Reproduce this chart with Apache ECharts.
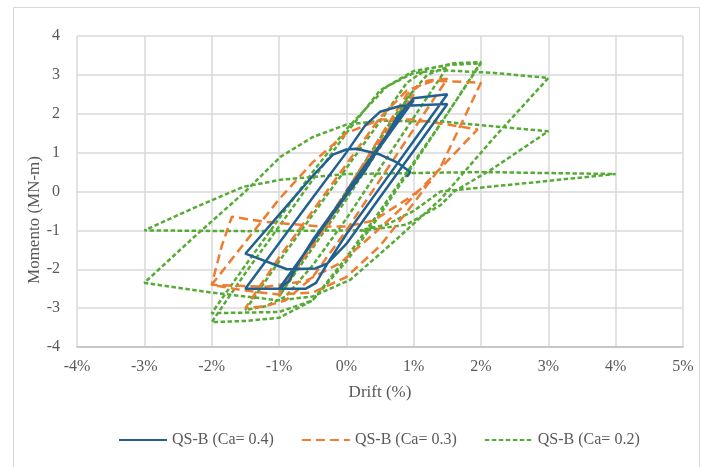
<!DOCTYPE html>
<html>
<head>
<meta charset="utf-8">
<script src="https://cdn.jsdelivr.net/npm/echarts@6/dist/echarts.min.js"></script>
<style>
html,body{margin:0;padding:0;background:#fff;}
#chart{width:705px;height:467px;}
</style>
</head>
<body>
<div id="chart"></div>
<script>
// Tick labels
var xTicks = [-4, -3, -2, -1, 0, 1, 2, 3, 4, 5];
var yTicks = [-4, -3, -2, -1, 0, 1, 2, 3, 4];

// Series names and axis titles
var seriesNames = ['QS-B (Ca= 0.4)', 'QS-B (Ca= 0.3)', 'QS-B (Ca= 0.2)'];
var xTitle = 'Drift (%)';
var yTitle = 'Momento (MN-m)';

// QS-B (Ca= 0.4) : drift (%) and moment (MN-m)
var blueDrift = [0,0.4,0.7,0.85,1.0,
  0.5,0,-0.5,-0.7,-0.85,-1.0,
  -0.5,0,0.3,0.55,0.75,1.0,1.5,
  1.0,0.5,0,-0.28,-0.45,-0.6,-1.0,-1.5,
  -1.0,-0.5,0,0.28,0.5,0.8,1.5,
  1.0,0.5,0,-0.28,-0.46,-0.88,-1.5,
  -1.0,-0.5,-0.2,0,0.15,0.5,0.75,0.95,0.9];
var blueMoment = [0,0.95,1.7,2.1,2.35,
  1.15,-0.05,-1.25,-1.8,-2.3,-2.5,
  -1.3,-0.1,0.6,1.3,1.9,2.4,2.5,
  1.3,0.1,-1.1,-1.85,-2.35,-2.5,-2.5,-2.5,
  -1.33,-0.16,1.0,1.7,2.05,2.2,2.25,
  1.05,-0.15,-1.35,-1.85,-1.98,-2.0,-1.6,
  -0.6,0.4,0.95,1.08,1.1,0.95,0.75,0.5,0.38];

// QS-B (Ca= 0.3)
var orangeDrift = [0,0.5,0.8,1.0,
  0.5,0,-0.5,-0.8,-1.0,
  -0.5,0,0.5,0.9,1.2,1.5,
  1.0,0.5,0,-0.5,-0.9,-1.2,-1.5,
  -1.0,-0.5,0,0.5,0.9,1.3,2.0,
  1.4,1.0,0.5,0,-0.5,-1.0,-1.5,-2.0,
  -1.5,-1.0,-0.5,0,0.5,1.0,1.4,1.95,
  1.4,0.9,0.4,-0.09,-0.6,-1.2,-2.0,
  -1.85,-1.7,-1.2,-0.4,0,0.4,0.9,1.29];
var orangeMoment = [0,1.3,2.0,2.5,
  1.2,-0.1,-1.4,-2.1,-2.6,
  -1.3,0,1.4,2.5,2.85,2.9,
  1.6,0.3,-1.0,-2.2,-2.8,-2.95,-3.0,
  -1.7,-0.5,0.7,1.9,2.6,2.85,2.8,
  0.63,-0.3,-1.4,-2.2,-2.6,-2.65,-2.55,-2.4,
  -1.3,-0.2,0.75,1.5,1.85,1.85,1.75,1.6,
  0.6,-0.3,-1.1,-1.84,-2.3,-2.45,-2.4,
  -1.4,-0.65,-0.78,-0.9,-0.9,-0.75,-0.2,0.3];

// QS-B (Ca= 0.2)
var greenDrift = [0,0.4,0.7,1.0,
  0.6,0,-0.6,-0.85,-1.0,
  -0.6,0,0.6,0.9,1.2,1.5,
  1.0,0.5,0,-0.5,-0.9,-1.2,-1.5,
  -1.0,-0.5,0,0.5,0.9,1.2,1.6,2.0,
  1.5,1.0,0.5,0,-0.5,-1.0,-1.5,-2.0,
  -1.5,-1.0,-0.5,0,0.5,1.0,1.5,2.0,
  1.5,1.0,0.5,0,-0.5,-1.0,-2.0,
  -1.5,-1.0,-0.5,0,0.6,1.0,1.4,2.2,3.0,
  2.2,1.4,0.7,0.06,-0.5,-1.0,-2.0,-3.0,
  -2.28,-1.5,-0.98,-0.5,0,0.5,1.4,3.0,
  2.14,1.6,1.4,0.9,0.3,-1.5,-3.0,
  -2.3,-1.53,-0.98,0,2.0,4.0,
  2.7,1.4,1.0,0.6,0.2];
var greenMoment = [0,1.1,1.9,2.6,
  1.6,0,-1.6,-2.3,-2.7,
  -1.7,-0.2,1.4,2.4,3.0,3.2,
  1.9,0.6,-0.7,-1.9,-2.7,-2.95,-3.05,
  -1.8,-0.6,0.6,1.8,2.8,3.15,3.3,3.33,
  2.0,0.75,-0.5,-1.7,-2.8,-3.25,-3.33,-3.36,
  -2.1,-0.9,0.3,1.5,2.6,3.1,3.25,3.3,
  2.0,0.7,-0.6,-1.8,-2.8,-3.1,-3.13,
  -1.9,-0.7,0.5,1.6,2.7,3.05,3.12,3.05,2.92,
  1.4,-0.2,-1.3,-2.27,-2.7,-2.8,-2.6,-2.35,
  -1.2,0.0,0.89,1.4,1.72,1.82,1.8,1.55,
  0.55,0.0,-0.35,-0.85,-1.0,-1.02,-1.0,
  -0.45,0.12,0.3,0.45,0.5,0.45,
  0.22,0.0,-0.5,-0.85,-1.0];

function zip(xs, ys) {
  var out = [];
  for (var i = 0; i < xs.length; i++) out.push([xs[i], ys[i]]);
  return out;
}

var colors = ['#22608F', '#ED7D31', '#56AB36'];
var dashes = ['solid', [9, 5], [4.5, 2.5]];
var datasets = [zip(blueDrift, blueMoment), zip(orangeDrift, orangeMoment), zip(greenDrift, greenMoment)];

var chart = echarts.init(document.getElementById('chart'), null, {renderer: 'canvas'});
var font = '"Liberation Serif", "Times New Roman", serif';
var series = [];
for (var s = 0; s < 3; s++) {
  series.push({
    name: seriesNames[s],
    type: 'line',
    data: datasets[s],
    symbol: 'none',
    showSymbol: false,
    smooth: false,
    animation: false,
    z: 3 + (2 - s),
    lineStyle: {color: colors[s], width: 2.5, type: dashes[s]},
    itemStyle: {color: colors[s]}
  });
}

chart.setOption({
  backgroundColor: '#fff',
  animation: false,
  color: colors,
  graphic: [{
    type: 'rect',
    shape: {x: 13.5, y: 7.5, width: 686, height: 470},
    style: {fill: 'none', stroke: '#d9d9d9', lineWidth: 1},
    silent: true, z: -10
  }, {
    type: 'text',
    x: 35, y: 220,
    rotation: Math.PI / 2,
    style: {text: yTitle, fontFamily: font, fontSize: 17, fill: '#595959',
      align: 'center', verticalAlign: 'middle'},
    silent: true
  }],
  grid: {left: 77, right: 22, top: 36, bottom: 120, containLabel: false},
  legend: {
    data: seriesNames,
    left: 113, top: 427,
    itemWidth: 48, itemHeight: 2, itemGap: 27,
    itemStyle: {color: 'rgba(0,0,0,0)', borderWidth: 0},
    textStyle: {fontFamily: font, fontSize: 16, color: '#595959'}
  },
  xAxis: {
    type: 'value', min: xTicks[0], max: xTicks[xTicks.length - 1], interval: 1,
    name: xTitle, nameLocation: 'middle', nameGap: 37,
    nameTextStyle: {fontFamily: font, fontSize: 17, color: '#595959'},
    axisLine: {show: true, onZero: false, lineStyle: {color: '#bfbfbf', width: 1.5}},
    axisTick: {show: false},
    axisLabel: {fontFamily: font, fontSize: 16, color: '#595959', margin: 12,
      formatter: function (v) { return v + '%'; }},
    splitLine: {show: true, lineStyle: {color: '#d9d9d9', width: 1.5}}
  },
  yAxis: {
    type: 'value', min: yTicks[0], max: yTicks[yTicks.length - 1], interval: 1,
    axisLine: {show: false},
    axisTick: {show: false},
    axisLabel: {fontFamily: font, fontSize: 16, color: '#595959', margin: 17},
    splitLine: {show: true, lineStyle: {color: '#d9d9d9', width: 1.5}}
  },
  series: series
});
</script>
</body>
</html>
